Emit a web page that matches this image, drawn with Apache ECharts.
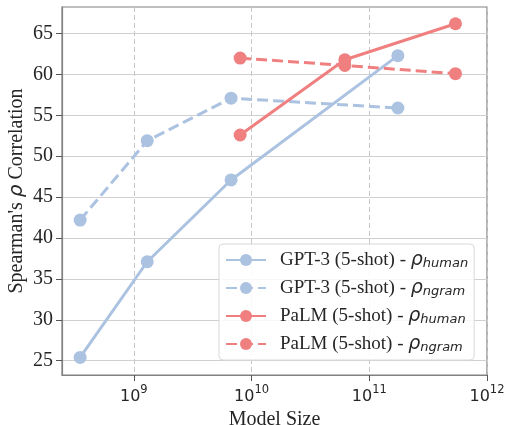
<!DOCTYPE html>
<html><head><meta charset="utf-8">
<script src="https://cdn.jsdelivr.net/npm/echarts@6/dist/echarts.min.js"></script>
<style>html,body{margin:0;padding:0;background:#fff}#c{width:508px;height:425px}</style>
</head><body><div id="c"></div>
<script>
const gptSizes = [3.5e8, 1.3e9, 6.7e9, 1.75e11];
const palmSizes = [8e9, 6.2e10, 5.4e11];
const gptHuman = [25.4, 37.1, 47.1, 62.3];
const gptNgram = [42.2, 51.9, 57.1, 55.9];
const palmHuman = [52.6, 61.8, 66.2];
const palmNgram = [62.0, 61.1, 60.1];
const yTicks = [25, 30, 35, 40, 45, 50, 55, 60, 65];
const xTicks = [1e9, 1e10, 1e11, 1e12];
const seriesNames = [
  'GPT-3 (5-shot) - ρhuman', 'GPT-3 (5-shot) - ρngram',
  'PaLM (5-shot) - ρhuman', 'PaLM (5-shot) - ρngram'
];
const BLUE = '#abc2e1', RED = '#f08080';
const serif = 'Liberation Serif';

function pairs(xs, ys) { return xs.map((x, i) => [x, ys[i]]); }
function mk(name, xs, ys, color, dashed) {
  return {
    name, type: 'line', data: pairs(xs, ys),
    symbol: 'circle', symbolSize: 13,
    lineStyle: { color, width: 3, type: dashed ? [11, 5] : 'solid' },
    itemStyle: { color },
    emphasis: { disabled: true }
  };
}
const chart = echarts.init(document.getElementById('c'));
chart.setOption({
  animation: false,
  grid: { left: 62, right: 21, top: 7, bottom: 50, show: true, borderColor: '#808080', borderWidth: 1.2,
          containLabel: false, outerBoundsMode: 'none' },
  xAxis: {
    type: 'log', logBase: 10, min: Math.pow(10, 8.39), max: 1e12,
    name: 'Model Size', nameLocation: 'middle', nameGap: 22,
    nameTextStyle: { fontFamily: serif, fontSize: 20, color: '#262626' },
    axisLine: { lineStyle: { color: '#808080', width: 1.2 } },
    axisTick: { show: true, customValues: xTicks, length: 6, lineStyle: { color: '#555' } },
    axisLabel: {
      customValues: xTicks, margin: 9,
      formatter: v => '{b|10}{s|' + Math.round(Math.log10(v)) + '}',
      rich: {
        b: { fontFamily: 'DejaVu Sans', fontSize: 16, color: '#262626', verticalAlign: 'bottom' },
        s: { fontFamily: 'DejaVu Sans', fontSize: 11.5, color: '#262626', verticalAlign: 'top', padding: [0, 0, 9, 0] }
      }
    },
    splitLine: { show: true, lineStyle: { color: '#c8c8c8', type: [5, 3], width: 1 } }
  },
  yAxis: {
    type: 'value', min: 23.25, max: 68.25,
    name: "{t|Spearman's }{r|ρ}{t| Correlation}", nameLocation: 'middle', nameGap: 35,
    nameMoveOverlap: false,
    nameTextStyle: {
      rich: {
        t: { fontFamily: serif, fontSize: 20, color: '#262626' },
        r: { fontFamily: 'DejaVu Sans', fontStyle: 'italic', fontSize: 20, color: '#262626' }
      }
    },
    axisLine: { show: true, lineStyle: { color: '#808080', width: 1.2 } },
    axisTick: { show: true, customValues: yTicks, length: 6, lineStyle: { color: '#555' } },
    axisLabel: { customValues: yTicks, fontFamily: serif, fontSize: 20, color: '#262626', margin: 9 },
    splitLine: { show: true, lineStyle: { color: '#d0d0d0', width: 1 } }
  },
  legend: {
    orient: 'vertical', left: 219, top: 244,
    padding: [6, 6, 6, 6], itemGap: 8, itemWidth: 40, itemHeight: 15,
    backgroundColor: 'rgba(255,255,255,0.85)', borderColor: '#d8d8d8', borderWidth: 1, borderRadius: 4,
    data: seriesNames,
    formatter: n => {
      const idx = n.lastIndexOf('ρ');
      return '{t|' + n.slice(0, idx) + '}{r|ρ}{sub|' + n.slice(idx + 1) + '}';
    },
    textStyle: {
      rich: {
        t: { fontFamily: serif, fontSize: 19, color: '#262626', padding: [0, 0, 0, 9], lineHeight: 21 },
        r: { fontFamily: 'DejaVu Sans', fontStyle: 'italic', fontSize: 19, color: '#262626', lineHeight: 21 },
        sub: { fontFamily: 'DejaVu Sans', fontStyle: 'italic', fontSize: 13, color: '#262626', padding: [7, 0, 0, 0], lineHeight: 14 }
      }
    }
  },
  series: [
    mk(seriesNames[0], gptSizes, gptHuman, BLUE, false),
    mk(seriesNames[1], gptSizes, gptNgram, BLUE, true),
    mk(seriesNames[2], palmSizes, palmHuman, RED, false),
    mk(seriesNames[3], palmSizes, palmNgram, RED, true)
  ]
});
</script></body></html>
